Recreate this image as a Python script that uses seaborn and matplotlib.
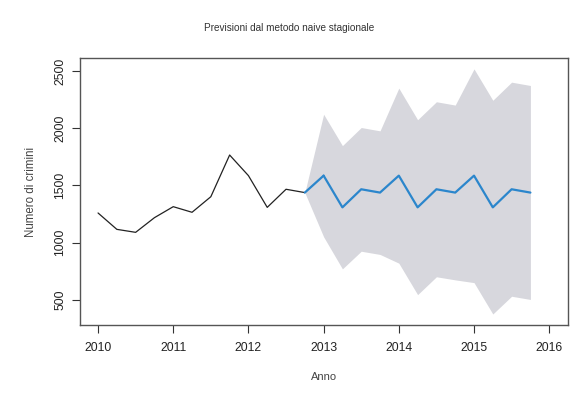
import matplotlib
matplotlib.use("Agg")
import matplotlib.pyplot as plt
import pandas as pd
import seaborn as sns

# quarterly observations 2010 Q1 .. 2012 Q4
obs_time = [2010.0, 2010.25, 2010.5, 2010.75, 2011.0, 2011.25, 2011.5, 2011.75,
            2012.0, 2012.25, 2012.5, 2012.75]
obs_value = [1260, 1117, 1091, 1219, 1315, 1266, 1402, 1766,
             1586, 1309, 1467, 1438]

# seasonal naive forecasts 2013 Q1 .. 2015 Q4 (band starts at last observation)
fc_time = [2012.75, 2013.0, 2013.25, 2013.5, 2013.75, 2014.0, 2014.25, 2014.5, 2014.75,
           2015.0, 2015.25, 2015.5, 2015.75]
fc_mean = [1438, 1586, 1309, 1467, 1438, 1586, 1309, 1467, 1438,
           1586, 1309, 1467, 1438]
fc_lower = [1438, 1052, 772, 926, 898, 822, 547, 703, 676,
            652, 378, 533, 505]
fc_upper = [1438, 2122, 1848, 2006, 1977, 2350, 2074, 2231, 2202,
            2518, 2244, 2402, 2373]

sns.set_theme(style="white")
plt.rcParams["font.family"] = ["Liberation Sans", "DejaVu Sans"]

fig = plt.figure(figsize=(5.84, 3.93), dpi=100)
ax = fig.add_axes([80 / 584, 1 - 325 / 393, 488 / 584, 267 / 393])

obs = pd.DataFrame({"time": obs_time, "value": obs_value})
fc = pd.DataFrame({"time": fc_time, "mean": fc_mean,
                   "lower": fc_lower, "upper": fc_upper})

ax.fill_between(fc["time"], fc["lower"], fc["upper"],
                color="#d7d7dd", linewidth=0, zorder=1)
sns.lineplot(data=obs, x="time", y="value", ax=ax, color="#222222",
             linewidth=0.9, zorder=3)
sns.lineplot(data=fc.iloc[1:], x="time", y="mean", ax=ax, color="#2b86cc",
             linewidth=1.6, zorder=4)
# short connector from last observation into the forecast
sns.lineplot(data=fc.iloc[:2], x="time", y="mean", ax=ax, color="#2b86cc",
             linewidth=1.6, zorder=4)

ax.set_xlim(2009.76, 2016.25)
ax.set_ylim(282, 2613)
ax.set_xticks([2010, 2011, 2012, 2013, 2014, 2015, 2016])
ax.set_yticks([500, 1000, 1500, 2000, 2500])
ax.set_yticklabels(["500", "1000", "1500", "2000", "2500"],
                   rotation=90, va="center")

ax.tick_params(axis="both", direction="out", length=6, width=0.8,
               color="#333333", labelsize=8.8, labelcolor="#222222",
               bottom=True, left=True)
ax.tick_params(axis="x", pad=6)
ax.tick_params(axis="y", pad=4)
for side in ["top", "right", "bottom", "left"]:
    ax.spines[side].set_color("#555555")
    ax.spines[side].set_linewidth(1.0)

ax.set_xlabel("Anno", fontsize=8, color="#444444", labelpad=13)
ax.set_ylabel("Numero di crimini", fontsize=8.3, color="#444444", labelpad=12)
fig.text(289 / 584, 1 - 28 / 393, "Previsioni dal metodo naive stagionale",
         ha="center", va="center", fontsize=7.2, color="#333333")

fig.savefig("out.png", dpi=100)
